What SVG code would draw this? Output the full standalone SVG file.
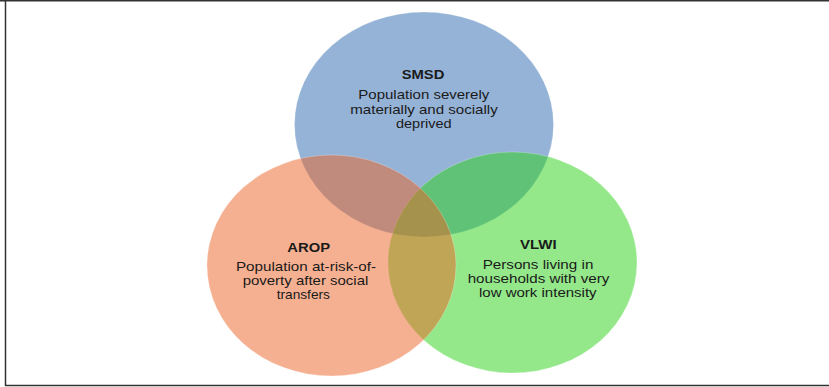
<svg xmlns="http://www.w3.org/2000/svg" width="829" height="387" viewBox="0 0 829 387">
  <style>
    .set { fill-opacity: 0.5; stroke: #ffffff; stroke-opacity: 0.25; stroke-width: 1; }
    .title { font-family: "Liberation Sans", Arial, sans-serif; font-size: 13.5px; font-weight: bold; fill: #1a1a1a; text-anchor: middle; }
    .desc { font-family: "Liberation Sans", Arial, sans-serif; font-size: 13.5px; fill: #1a1a1a; text-anchor: middle; }
    .frame { stroke: #333333; stroke-width: 1.5; fill: none; }
  </style>
  <rect width="829" height="387" fill="#ffffff"/>

  <!-- frame lines -->
  <g id="frame">
    <line class="frame" x1="0" y1="0.75" x2="829" y2="0.75"/>
    <line class="frame" x1="5.5" y1="0" x2="5.5" y2="386"/>
    <line class="frame" x1="5" y1="385.5" x2="829" y2="385.5"/>
  </g>

  <!-- SMSD set -->
  <g id="smsd">
    <ellipse class="set" cx="424" cy="124.5" rx="129.5" ry="112.5" fill="#2B67AF"/>
  </g>

  <!-- VLWI set -->
  <g id="vlwi">
    <ellipse class="set" cx="512.5" cy="262.5" rx="124.5" ry="110.5" fill="#29D115"/>
  </g>

  <!-- AROP set -->
  <g id="arop">
    <ellipse class="set" cx="331.5" cy="265.5" rx="124.5" ry="110.5" fill="#EB6123"/>
  </g>

  <!-- labels -->
  <g id="smsd-label">
    <text class="title" x="423" y="79.3" textLength="42.7" lengthAdjust="spacingAndGlyphs">SMSD</text>
    <text class="desc" x="423.8" y="99" textLength="131" lengthAdjust="spacingAndGlyphs">Population severely</text>
    <text class="desc" x="424" y="113.5" textLength="147.5" lengthAdjust="spacingAndGlyphs">materially and socially</text>
    <text class="desc" x="423.8" y="127.5" textLength="55.7" lengthAdjust="spacingAndGlyphs">deprived</text>
  </g>
  <g id="arop-label">
    <text class="title" x="308.7" y="252.3" textLength="42.7" lengthAdjust="spacingAndGlyphs">AROP</text>
    <text class="desc" x="306" y="271" textLength="140" lengthAdjust="spacingAndGlyphs">Population at-risk-of-</text>
    <text class="desc" x="305.5" y="285" textLength="125.7" lengthAdjust="spacingAndGlyphs">poverty after social</text>
    <text class="desc" x="303.3" y="299.3" textLength="53.3" lengthAdjust="spacingAndGlyphs">transfers</text>
  </g>
  <g id="vlwi-label">
    <text class="title" x="538.3" y="249.3" textLength="36.7" lengthAdjust="spacingAndGlyphs">VLWI</text>
    <text class="desc" x="538" y="269" textLength="110.7" lengthAdjust="spacingAndGlyphs">Persons living in</text>
    <text class="desc" x="538.5" y="283" textLength="141.7" lengthAdjust="spacingAndGlyphs">households with very</text>
    <text class="desc" x="537.8" y="297" textLength="117.7" lengthAdjust="spacingAndGlyphs">low work intensity</text>
  </g>
</svg>
